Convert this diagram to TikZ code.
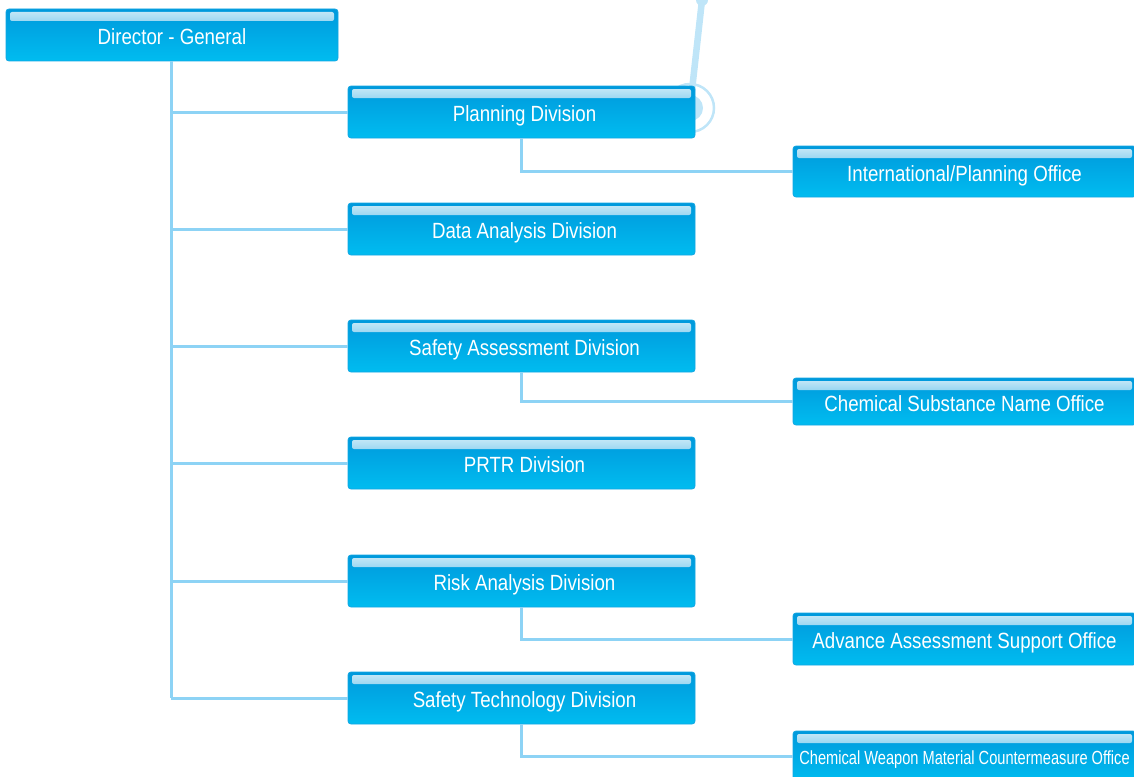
\documentclass[tikz,border=0pt]{standalone}
\usepackage{fontspec}
\newfontfamily\condfont[FakeStretch=0.85]{Liberation Sans}
\newfontfamily\narrowfont[FakeStretch=0.77]{Liberation Sans}
\definecolor{boxtop}{HTML}{0099DC}
\definecolor{boxbottom}{HTML}{00BCF0}
\definecolor{boxedge}{HTML}{12A6E2}
\definecolor{linkblue}{HTML}{8DD3F5}
\definecolor{palering}{HTML}{BFE5F8}
\tikzset{
  x=1pt, y=-1pt,
  orgbox/.style={
    rectangle, rounded corners=3pt, inner sep=0pt,
    draw=boxedge, line width=0.8pt,
    top color=boxtop, bottom color=boxbottom,
    text=white, font=\condfont\fontsize{22}{24}\selectfont,
    text height=21pt, text depth=2pt,
    path picture={
      \shade[top color=white!80!boxtop, middle color=white!35!boxtop, bottom color=boxtop, rounded corners=2pt]
        ([xshift=4pt,yshift=-3pt]path picture bounding box.north west)
        rectangle ([xshift=-4pt,yshift=-12pt]path picture bounding box.north east);
    }
  },
  divbox/.style={orgbox, minimum width=347pt, minimum height=52pt,
    execute at begin node={\hspace*{6pt}}},
  officebox/.style={orgbox, minimum width=343pt, minimum height=51pt},
  link/.style={draw=linkblue, line width=3pt}
}
\begin{document}
\begin{tikzpicture}
\useasboundingbox (0,0) rectangle (1134,776);
\begin{scope}
\clip (0,0) rectangle (1134,776);

% decorative pin behind the planning box
\draw[palering, line width=6.5pt, line cap=round] (702,0) -- (690,108);
\fill[palering] (702,0) circle (6);
\fill[palering] (690,108) circle (13);
\draw[palering, line width=2.5pt] (690,108) circle (24);

% head of the organisation and its trunk line
\coordinate (trunkend) at (171,698);
\node[orgbox, minimum width=332pt, minimum height=52pt] (dg) at (172,35) {Director - General};
\draw[link] (171,61) -- (trunkend);

% divisions
\node[divbox] (plan) at (521.5,112) {Planning Division};
\node[divbox] (data) at (521.5,229) {Data Analysis Division};
\node[divbox] (safe) at (521.5,346) {Safety Assessment Division};
\node[divbox] (prtr) at (521.5,463) {PRTR Division};
\node[divbox] (risk) at (521.5,581) {Risk Analysis Division};
\node[divbox] (tech) at (521.5,698) {Safety Technology Division};

% offices
\node[officebox] (intl) at (964.5,171.5) {International/Planning Office};
\node[officebox, minimum height=47pt] (chem) at (964.5,401.5) {Chemical Substance Name Office};
\node[officebox, minimum height=52pt] (adv) at (964.5,639) {Advance Assessment Support Office};
\node[officebox, minimum height=50pt, font=\narrowfont\fontsize{19}{21}\selectfont, text height=19pt] (cw) at (964.5,756)
  {Chemical Weapon Material Countermeasure Office};

% branches from the trunk to each division
\foreach \d in {plan,data,safe,prtr,risk,tech}
  \draw[link] (trunkend |- \d.west) -- (\d.west);

% division-to-office links
\draw[link] (plan.south) |- (intl.west);
\draw[link] (safe.south) |- (chem.west);
\draw[link] (risk.south) |- (adv.west);
\draw[link] (tech.south) |- (cw.west);
\end{scope}
\end{tikzpicture}
\end{document}
